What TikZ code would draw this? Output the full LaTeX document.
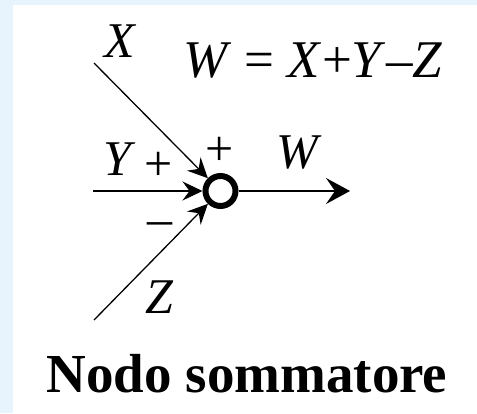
\documentclass[tikz,border=0pt]{standalone}
\usepackage{fontspec}
\setmainfont{Liberation Serif}
\usetikzlibrary{arrows.meta}
\definecolor{framebg}{RGB}{232,244,253}
\tikzset{
  sig/.style={line width=1.3pt},
  intip/.style={-{Stealth[length=20pt,width=19pt,inset=7pt]}},
  outtip/.style={-{Stealth[length=24pt,width=26pt,inset=9pt]}},
  lab/.style={font=\fontsize{50}{50}\selectfont\itshape, inner sep=0pt},
  sgn/.style={font=\fontsize{50}{50}\selectfont, inner sep=0pt},
  summer/.style={circle, draw, line width=6pt, minimum size=30pt, inner sep=0pt},
}
\begin{document}
\begin{tikzpicture}[x=1pt,y=-1pt]
\fill[framebg] (0,0) rectangle (477,413);
\fill[white] (13,5) rectangle (477,413);
\useasboundingbox (0,0) rectangle (477,413);
\node[summer] (sum) at (220.5,191) {};
\coordinate (xin) at (94,63);
\coordinate (yin) at (93,191);
\coordinate (zin) at (94,320);
\coordinate (wout) at (350,191);
\draw[sig,intip] (xin) -- (sum);
\draw[sig,intip] (yin) -- (sum);
\draw[sig,intip] (zin) -- (sum);
\draw[line width=1.6pt,outtip] (sum) -- (wout);
\node[lab] (lx) at (120,41) {X};
\node[lab] (ly) at (117,159) {Y};
\node[lab] (lz) at (159,297) {Z};
\node[lab] (lw) at (297,153) {W};
\node[sgn] (py) at (159,166) {+};
\node[sgn] (px) at (220,151) {+};
\node[sgn] (mz) at (160,229) {\textendash};
\node[font=\fontsize{53}{53}\selectfont, inner sep=0pt] (eq) at (313,61) {\textit{W} = \textit{X}+\textit{Y}\textendash\textit{Z}};
\node[font=\fontsize{55}{55}\selectfont\bfseries, inner sep=0pt] (cap) at (247,374) {Nodo sommatore};
\end{tikzpicture}
\end{document}
